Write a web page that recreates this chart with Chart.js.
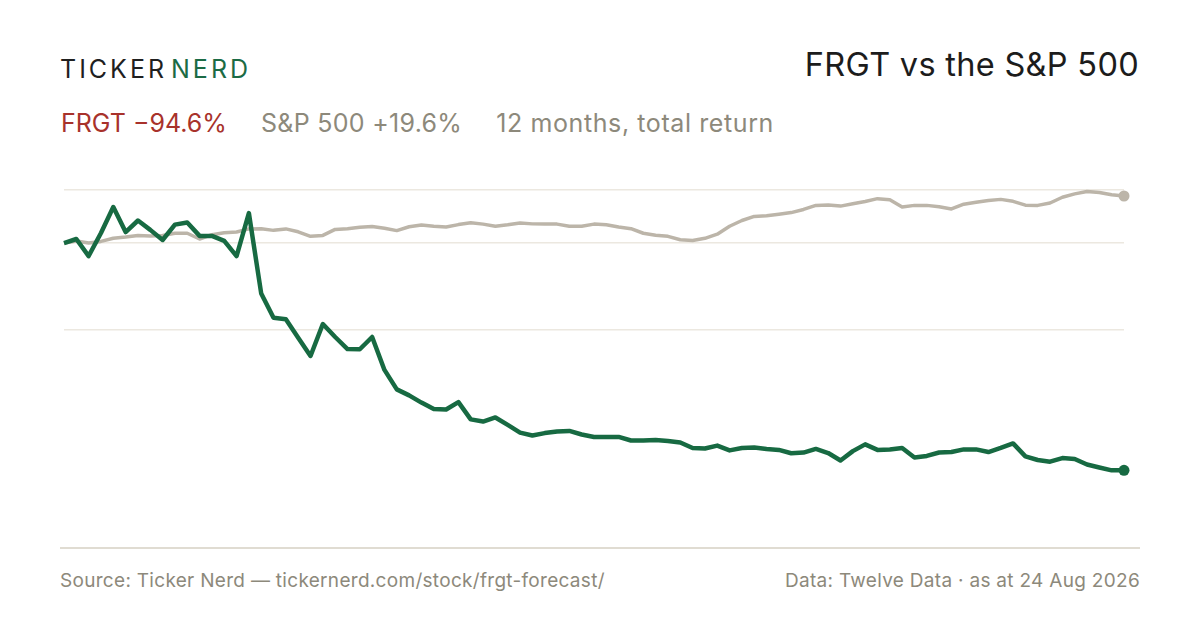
<!DOCTYPE html>
<html>
<head>
<meta charset="utf-8">
<script src="https://cdn.jsdelivr.net/npm/chart.js@4/dist/chart.umd.min.js"></script>
<style>
  html, body { margin: 0; padding: 0; background: #fff; }
  body { width: 1200px; height: 630px; position: relative; overflow: hidden; font-family: Inter, 'Noto Sans', sans-serif; }
  .brand { position: absolute; left: 60px; top: 57px; font-size: 25px; line-height: 25px; letter-spacing: 3px; color: #1f1f1f; }
  .brand span { color: #1b6b45; margin-left: 4px; }
  .title { position: absolute; right: 61px; top: 49px; font-size: 32.5px; line-height: 32.5px; letter-spacing: 0.3px; color: #1c1c1c; }
  .sub { position: absolute; left: 61px; top: 111px; font-size: 25px; line-height: 25px; letter-spacing: 0.3px; color: #8d897b; white-space: nowrap; }
  .sub .frgt { color: #a8322b; margin-right: 34px; letter-spacing: 0; }
  .sub .spx { margin-right: 34px; }
  .sub .note { letter-spacing: 0.6px; }
  .rule { position: absolute; left: 60px; width: 1080px; top: 547px; height: 2px; background: #e0dcd2; }
  .foot { position: absolute; top: 571px; font-size: 19px; line-height: 19px; letter-spacing: 0.3px; color: #8d897b; white-space: nowrap; }
  .foot.l { left: 60px; }
  .foot.r { right: 60px; }
  #wrap { position: absolute; left: 40px; top: 161px; width: 1120px; height: 380px; }
</style>
</head>
<body>
<div class="brand">TICKER<span>NERD</span></div>
<div class="title">FRGT vs the S&amp;P 500</div>
<div class="sub"><span class="frgt">FRGT −94.6%</span><span class="spx">S&amp;P 500 +19.6%</span><span class="note">12 months, total return</span></div>
<div id="wrap"><canvas id="chart"></canvas></div>
<div class="rule"></div>
<div class="foot l">Source: Ticker Nerd — tickernerd.com/stock/frgt-forecast/</div>
<div class="foot r">Data: Twelve Data · as at 24 Aug 2026</div>
<script>
// total return since start, %, sampled every few trading days over 12 months
const FRGT = [
  0, 1.7, -5.4, 4.2, 15.0, 4.6, 9.4, 5.5, 1.3, 7.7,
  8.6, 3.0, 3.0, 0.9, -5.4, 12.5, -21.0, -31.1, -31.7, -39.4,
  -47.0, -33.7, -39.1, -44.1, -44.2, -39.1, -52.8, -60.9, -63.4, -66.4,
  -69.1, -69.3, -66.2, -73.4, -74.3, -72.6, -75.7, -78.9, -80.1, -79.1,
  -78.4, -78.2, -79.7, -80.7, -80.7, -80.7, -82.2, -82.2, -82.0, -82.4,
  -83.0, -85.3, -85.5, -84.3, -86.3, -85.3, -85.1, -85.7, -86.1, -87.5,
  -87.2, -85.7, -87.4, -90.5, -86.6, -83.8, -86.1, -85.9, -85.3, -89.3,
  -88.6, -87.2, -87.0, -85.9, -85.9, -87.0, -85.3, -83.4, -88.8, -90.3,
  -91.0, -89.5, -89.9, -92.2, -93.4, -94.6, -94.6
];
const SPX = [
  0, 0.9, 0, 0.7, 2.0, 2.5, 3.2, 3.0, 3.2, 4.1,
  4.1, 1.7, 3.5, 4.3, 4.6, 5.9, 6.0, 5.3, 5.9, 4.7,
  2.8, 3.2, 5.7, 6.0, 6.6, 6.9, 6.2, 5.2, 6.8, 7.5,
  7.0, 6.7, 7.7, 8.5, 7.9, 7.0, 7.6, 8.4, 8.0, 7.9,
  7.9, 7.0, 7.0, 7.9, 7.6, 6.7, 6.0, 4.1, 3.3, 2.8,
  1.4, 1.1, 2.0, 3.7, 7.0, 9.4, 11.1, 11.4, 12.0, 12.7,
  14.0, 15.7, 15.9, 15.4, 16.4, 17.3, 18.5, 18.0, 15.0, 15.7,
  15.7, 15.1, 14.2, 16.2, 17.0, 17.7, 18.2, 17.4, 15.8, 15.7,
  16.7, 19.1, 20.5, 21.5, 21.1, 20.1, 19.6
];
const LABELS = FRGT.map((_, i) => String(i));
const GRID_LINES = [22, 0, -36];

const last = FRGT.length - 1;
const endDot = r => ctx => ctx.dataIndex === last ? r : 0;

new Chart(document.getElementById('chart'), {
  type: 'line',
  data: {
    labels: LABELS,
    datasets: [
      { data: FRGT, borderColor: '#176a42', backgroundColor: '#176a42', borderWidth: 4.5,
        pointRadius: endDot(5.5), pointBackgroundColor: '#176a42', pointBorderWidth: 0,
        borderJoinStyle: 'round', tension: 0, clip: false },
      { data: SPX, borderColor: '#bcb5a9', backgroundColor: '#bcb5a9', borderWidth: 3.5,
        pointRadius: endDot(5.5), pointBackgroundColor: '#bcb5a9', pointBorderWidth: 0,
        borderJoinStyle: 'round', tension: 0, clip: false },
    ],
  },
  options: {
    responsive: true, maintainAspectRatio: false, animation: false,
    layout: { padding: { left: 24, right: 36, top: 20, bottom: 20 } },
    plugins: { legend: { display: false }, tooltip: { enabled: false } },
    scales: {
      x: { display: false },
      y: {
        min: -115.7, max: 25.85,
        afterBuildTicks: s => { s.ticks = GRID_LINES.map(v => ({ value: v })); },
        ticks: { display: false },
        border: { display: false },
        grid: { color: '#ece8e0', lineWidth: 1.5, drawTicks: false },
      },
    },
  },
});
</script>
</body>
</html>
